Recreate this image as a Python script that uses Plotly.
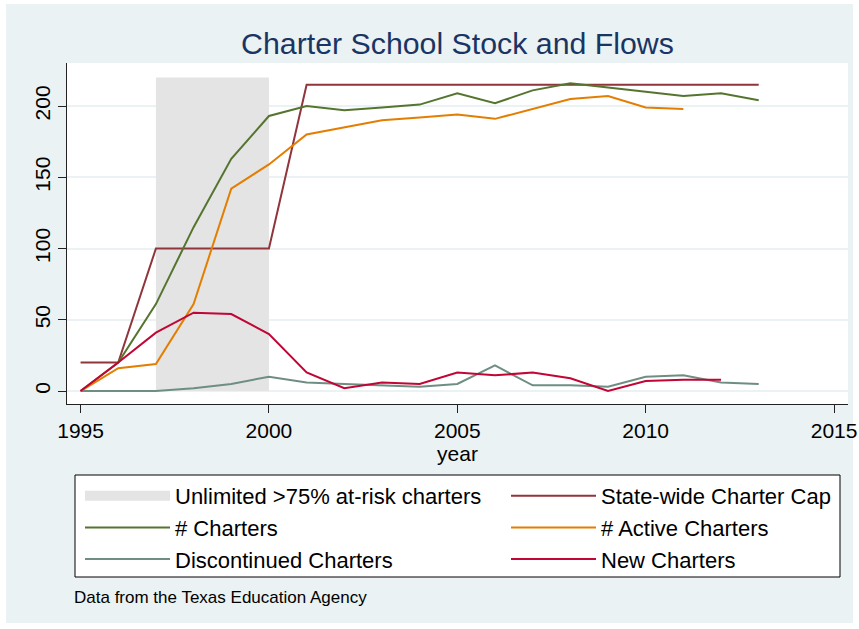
import plotly.graph_objects as go

years = list(range(1995, 2014))
charter_cap = [20, 20, 100, 100, 100, 100, 215, 215, 215, 215, 215, 215, 215, 215, 215, 215, 215, 215, 215]
n_charters = [0, 20, 61, 115, 163, 193, 200, 197, 199, 201, 209, 202, 211, 216, 213, 210, 207, 209, 204]
n_active = [0, 16, 19, 61, 142, 159, 180, 185, 190, 192, 194, 191, 198, 205, 207, 199, 198]
discontinued = [0, 0, 0, 2, 5, 10, 6, 5, 4, 3, 5, 18, 4, 4, 3, 10, 11, 6, 5]
new_charters = [0, 20, 41, 55, 54, 40, 13, 2, 6, 5, 13, 11, 13, 9, 0, 7, 8, 8]

# period with unlimited >75% at-risk charters
risk_start, risk_end, risk_top = 1997, 2000, 220

FONT = "Liberation Sans, Arial, sans-serif"
BG = "#eaf2f3"
SHADE = "#e4e4e4"

# plot-area pixel geometry, used to place decorations in paper coords
W, H = 859, 629
L, R, T, B = 67, 11, 63, 225
PW, PH = W - L - R, H - T - B


def px_x(p):
    return (p - L) / PW


def px_y(p):
    return (H - B - p) / PH


fig = go.Figure()
fig.add_trace(
    go.Scatter(
        x=[risk_start, risk_start, risk_end, risk_end],
        y=[0, risk_top, risk_top, 0],
        fill="toself",
        fillcolor=SHADE,
        mode="lines",
        line=dict(width=0),
        showlegend=False,
        hoverinfo="skip",
    )
)
fig.add_trace(
    go.Scatter(
        x=[None], y=[None], mode="lines",
        line=dict(color=SHADE, width=10),
        name="Unlimited >75% at-risk charters",
        legend="legend",
    )
)
series = [
    ("State-wide Charter Cap", charter_cap, "#90353b", "legend2"),
    ("# Charters", n_charters, "#55752f", "legend"),
    ("# Active Charters", n_active, "#e37e00", "legend2"),
    ("Discontinued Charters", discontinued, "#6e8e84", "legend"),
    ("New Charters", new_charters, "#c10534", "legend2"),
]
for name, vals, color, leg in series:
    fig.add_trace(
        go.Scatter(
            x=years[: len(vals)],
            y=vals,
            name=name,
            mode="lines",
            line=dict(color=color, width=2),
            legend=leg,
        )
    )

legend_style = dict(
    orientation="v",
    xanchor="left",
    yanchor="top",
    bgcolor="rgba(0,0,0,0)",
    borderwidth=0,
    itemwidth=85,
    font=dict(family=FONT, size=22, color="black"),
    tracegroupgap=0,
)

fig.update_layout(
    width=W,
    height=H,
    margin=dict(l=L, r=R, t=T, b=B, autoexpand=False),
    paper_bgcolor="white",
    plot_bgcolor="white",
    font=dict(family=FONT, color="black"),
    title=dict(
        text="Charter School Stock and Flows",
        x=0.5,
        xref="paper",
        xanchor="center",
        y=1 - 43 / H,
        yref="container",
        yanchor="middle",
        font=dict(family=FONT, size=30.3, color="#1a3563"),
    ),
    legend=dict(x=px_x(80), y=px_y(475), **legend_style),
    legend2=dict(x=px_x(506), y=px_y(475), **legend_style),
    shapes=[
        dict(type="rect", xref="paper", yref="paper", layer="below",
             x0=px_x(6), x1=px_x(853), y0=px_y(623), y1=px_y(4),
             fillcolor=BG, line=dict(width=0)),
        dict(type="rect", xref="paper", yref="paper", layer="below",
             x0=0, x1=1, y0=0, y1=1,
             fillcolor="white", line=dict(width=0)),
        dict(type="rect", xref="paper", yref="paper", layer="below",
             x0=px_x(75), x1=px_x(840), y0=px_y(577), y1=px_y(475),
             fillcolor="white", line=dict(color="black", width=1)),
    ],
    annotations=[
        dict(
            text="Data from the Texas Education Agency",
            xref="paper", yref="paper",
            x=px_x(72), y=px_y(597),
            xanchor="left", yanchor="middle",
            showarrow=False,
            font=dict(family=FONT, size=17, color="black"),
        )
    ],
)

fig.update_xaxes(
    range=[1994.64, 2015.37],
    tickvals=[1995, 2000, 2005, 2010, 2015],
    automargin=False,
    showgrid=False,
    zeroline=False,
    showline=True,
    linecolor="#222",
    linewidth=1,
    ticks="outside",
    ticklen=8,
    tickcolor="#222",
    tickfont=dict(family=FONT, size=21, color="black"),
    title=dict(text="year", standoff=2, font=dict(family=FONT, size=21, color="black")),
)
fig.update_yaxes(
    range=[-9.1, 230.2],
    tickvals=[0, 50, 100, 150, 200],
    tickangle=-90,
    automargin=False,
    showgrid=True,
    gridcolor=BG,
    gridwidth=1.5,
    zeroline=False,
    showline=True,
    linecolor="#222",
    linewidth=1,
    ticks="outside",
    ticklen=8,
    tickcolor="#222",
    tickfont=dict(family=FONT, size=21, color="black"),
)

# the page's default body margin would offset the figure by 8px
fig.write_html(
    "out.html",
    config={"displayModeBar": False},
    post_script="document.body.style.margin = '0';",
)
